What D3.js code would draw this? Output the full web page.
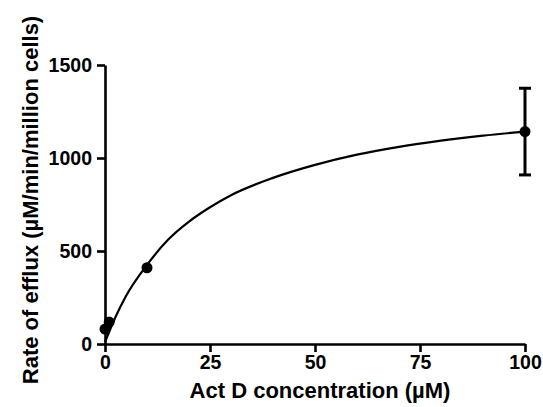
<!DOCTYPE html>
<html>
<head>
<meta charset="utf-8">
<script src="https://cdn.jsdelivr.net/npm/d3@7"></script>
<style>
  body { margin: 0; background: #fff; }
  text { font-family: "Liberation Sans", Arial, sans-serif; font-weight: bold; fill: #000; }
</style>
</head>
<body>
<div id="chart"></div>
<script>
// measured points (Act D conc in uM, rate, sem)
const conc = [0, 1, 10, 100];
const rate = [80, 118, 410, 1142];
const sem = [0, 0, 0, 233];

// fitted curve
const fitX = [0, 2.5, 5, 10, 15, 20, 25, 30, 40, 50, 60, 70, 80, 90, 100];
const fitY = [10, 145, 258, 425, 560, 658, 735, 800, 893, 963, 1018, 1060, 1093, 1120, 1142];

const xTicks = [0, 25, 50, 75, 100];
const yTicks = [0, 500, 1000, 1500];

let width = 543, height = 407;
var margin = { top: 65, right: 18, bottom: 63, left: 105 };
var w = width - margin.left - margin.right;
var h = height - margin.top - margin.bottom;

let svg = d3.select("#chart")
    .append("svg")
    .attr("width", width)
    .attr("height", height);

let g = svg.append("g")
    .attr("transform", "translate(" + margin.left + "," + margin.top + ")");

var x = d3.scaleLinear().domain([0, 100]).range([0, w]);
var y = d3.scaleLinear().domain([0, 1500]).range([h, 0]);

//x-axis
let xAxis = g.append("g")
    .attr("transform", "translate(0," + h + ")")
    .call(d3.axisBottom(x).tickValues(xTicks).tickFormat(d3.format("d"))
        .tickSize(8).tickSizeOuter(0).tickPadding(3));
//y-axis
let yAxis = g.append("g")
    .call(d3.axisLeft(y).tickValues(yTicks).tickFormat(d3.format("d"))
        .tickSize(8).tickSizeOuter(0).tickPadding(5));

[xAxis, yAxis].forEach(a => {
    a.select(".domain").attr("stroke", "#000").attr("stroke-width", 2.6);
    a.selectAll(".tick line").attr("stroke", "#000").attr("stroke-width", 2.6);
    a.selectAll(".tick text").style("font-size", "19.5px").attr("fill", "#000");
});

// curve
let fit = fitX.map((d, i) => [d, fitY[i]]);
g.append("path")
    .datum(fit)
    .attr("fill", "none")
    .attr("stroke", "#000")
    .attr("stroke-width", 2.2)
    .attr("d", d3.line()
        .x(d => x(d[0]))
        .y(d => y(d[1]))
        .curve(d3.curveMonotoneX));

// error bars
let pts = conc.map((d, i) => ({ c: d, r: rate[i], e: sem[i] }));
let eb = g.append("g");
pts.filter(d => d.e > 0).forEach(d => {
    eb.append("line")
        .attr("x1", x(d.c)).attr("x2", x(d.c))
        .attr("y1", y(d.r - d.e)).attr("y2", y(d.r + d.e))
        .attr("stroke", "#000").attr("stroke-width", 3);
    [d.r - d.e, d.r + d.e].forEach(v => {
        eb.append("line")
            .attr("x1", x(d.c) - 6).attr("x2", x(d.c) + 6)
            .attr("y1", y(v)).attr("y2", y(v))
            .attr("stroke", "#000").attr("stroke-width", 3);
    });
});

g.selectAll("circle")
    .data(pts)
    .enter()
    .append("circle")
    .attr("cx", d => x(d.c))
    .attr("cy", d => y(d.r))
    .attr("r", 5.5)
    .attr("fill", "#000");

// X label
svg.append("text")
    .attr("x", 320)
    .attr("y", 398)
    .attr("text-anchor", "middle")
    .style("font-size", "22px")
    .text("Act D concentration (µM)");

// Y label
svg.append("text")
    .attr("text-anchor", "middle")
    .attr("transform", "translate(38,200)rotate(-90)")
    .style("font-size", "22px")
    .text("Rate of efflux (µM/min/million cells)");
</script>
</body>
</html>
